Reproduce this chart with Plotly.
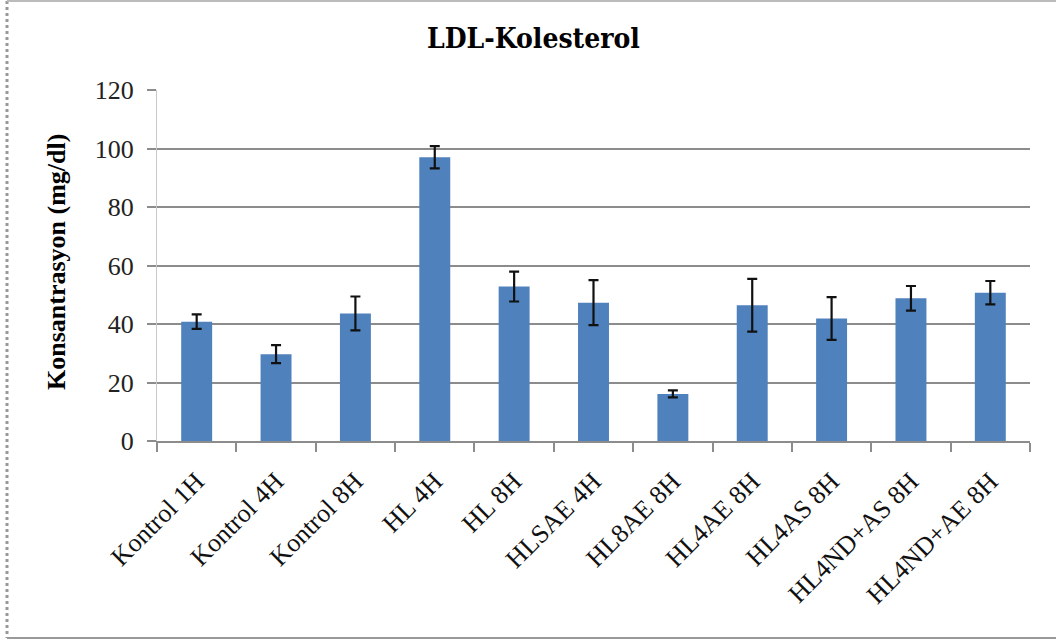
import plotly.graph_objects as go

# LDL cholesterol by group (mg/dl), mean and error
groups = ["Kontrol 1H", "Kontrol 4H", "Kontrol 8H", "HL 4H", "HL 8H", "HLSAE 4H",
          "HL8AE 8H", "HL4AE 8H", "HL4AS 8H", "HL4ND+AS 8H", "HL4ND+AE 8H"]
ldl_mean = [40.8, 29.7, 43.6, 97.0, 52.8, 47.3, 16.1, 46.4, 41.9, 48.8, 50.7]
ldl_err = [2.5, 3.1, 5.8, 3.8, 5.1, 7.7, 1.2, 9.0, 7.3, 4.2, 4.0]
y_ticks = [0, 20, 40, 60, 80, 100, 120]

W, H = 1056, 643
L, R, T, B = 157, 26, 90, 202
PW, PH = W - L - R, H - T - B

def px(x):
    return (x - L) / PW

def py(y):
    return (H - B - y) / PH

SERIF = "Liberation Serif"

fig = go.Figure(go.Bar(
    x=groups, y=ldl_mean,
    marker=dict(color="#4F81BD", line=dict(width=0)),
    width=0.39,
    error_y=dict(type="data", array=ldl_err, visible=True,
                 color="#111111", thickness=2.2, width=5),
))

fig.update_layout(
    width=W, height=H,
    margin=dict(l=L, r=R, t=T, b=B),
    paper_bgcolor="white", plot_bgcolor="white",
    showlegend=False,
    font=dict(family=SERIF, color="#222222"),
    xaxis=dict(
        type="category", tickson="boundaries", ticks="outside", ticklen=9,
        tickcolor="#8c8c8c", tickwidth=1.5, tickangle=-45,
        tickfont=dict(family=SERIF, size=26, color="#111111"),
        ticklabelstandoff=13,
        showline=True, linecolor="#8c8c8c", linewidth=1.5,
        showgrid=False, range=[-0.5, 10.5],
    ),
    yaxis=dict(
        range=[0, 120], tickvals=y_ticks, ticks="outside", ticklen=9,
        tickcolor="#8c8c8c", tickwidth=1.5,
        tickfont=dict(family=SERIF, size=26, color="#222222"),
        ticklabelstandoff=8,
        showgrid=True, gridcolor="#8c8c8c", gridwidth=1.5,
        showline=True, linecolor="#c8c8c8", linewidth=1,
        zeroline=False,
    ),
    annotations=[
        dict(text="<b>LDL-Kolesterol</b>",
             xref="paper", yref="paper", x=px(533), y=py(38),
             xanchor="center", yanchor="middle", showarrow=False,
             font=dict(family="DejaVu Serif Condensed, DejaVu Serif, serif",
                       size=28, color="#000000")),
        dict(text="<b>Konsantrasyon (mg/dl)</b>", textangle=-90,
             xref="paper", yref="paper", x=px(56), y=py(262),
             xanchor="center", yanchor="middle", showarrow=False,
             font=dict(family=SERIF, size=26, color="#000000")),
    ],
    shapes=[
        dict(type="line", xref="paper", yref="paper",
             x0=px(7), x1=px(7), y0=py(1), y1=py(638),
             line=dict(color="#999999", width=3, dash="dot")),
        dict(type="line", xref="paper", yref="paper",
             x0=px(7), x1=px(1056), y0=py(1), y1=py(1),
             line=dict(color="#bbbbbb", width=2)),
        dict(type="line", xref="paper", yref="paper",
             x0=px(7), x1=px(1056), y0=py(638), y1=py(638),
             line=dict(color="#999999", width=2)),
    ],
)

fig.write_html("out.html")
